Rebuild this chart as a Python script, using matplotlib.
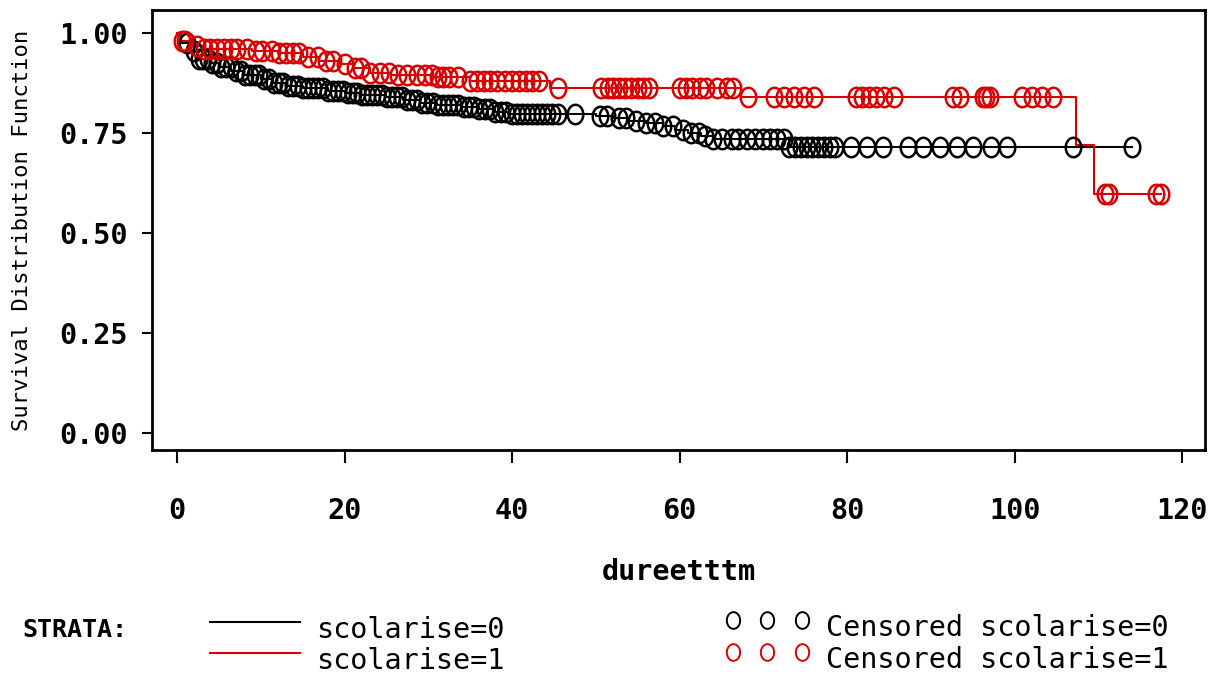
import numpy as np
import matplotlib
matplotlib.use("Agg")
import matplotlib.pyplot as plt
from matplotlib.lines import Line2D
from matplotlib.path import Path

# ---------------- data ----------------
blk_times = [0, 0.5, 1.5, 2.5, 4.0, 5.0, 6.5, 8.0, 10.0, 11.5, 13.0, 15.0, 18.0, 20.0,
             22.0, 25.0, 27.0, 29.0, 31.0, 34.0, 36.0, 38.0, 39.5, 50.0, 52.0, 54.0,
             56.0, 58.0, 59.5, 61.0, 62.5, 64.0, 73.0]
blk_surv = [1.0, 0.975, 0.955, 0.935, 0.925, 0.915, 0.905, 0.895, 0.885, 0.875, 0.868,
            0.862, 0.856, 0.85, 0.845, 0.84, 0.833, 0.826, 0.82, 0.815, 0.81, 0.803,
            0.797, 0.792, 0.787, 0.781, 0.775, 0.767, 0.758, 0.75, 0.742, 0.735, 0.715]
blk_end = 114.0
blk_cens = [1.2, 2.0, 2.6, 3.1, 3.7, 4.2, 4.8, 5.3, 5.9, 6.4, 7.0, 7.6, 8.1, 8.7, 9.3,
            9.8, 10.4, 11.0, 11.6, 12.2, 12.7, 13.3, 13.9, 14.5, 15.1, 15.6, 16.2, 16.8,
            17.4, 18.0, 18.6, 19.2, 19.8, 20.4, 21.0, 21.5, 22.1, 22.7, 23.3, 23.9, 24.5,
            25.1, 25.7, 26.3, 26.9, 27.5, 28.1, 28.7, 29.3, 29.9, 30.5, 31.1, 31.7, 32.3,
            33.0, 33.6, 34.2, 34.8, 35.5, 36.1, 36.8, 37.4, 38.0, 38.7, 39.3, 40.0, 40.6,
            41.2, 41.8, 42.4, 43.0, 43.6, 44.2, 44.8, 45.5, 47.5, 50.5, 51.3, 52.8, 53.6,
            54.8, 56.0, 57.0, 58.0, 59.2, 60.4, 61.3, 62.3, 63.0, 64.0, 65.0, 66.2, 67.0,
            68.0, 69.0, 70.0, 70.8, 71.6, 72.4, 73.0, 73.8, 74.5, 75.2, 75.8, 76.5, 77.2,
            77.9, 78.5, 80.4, 82.4, 84.3, 87.2, 89.1, 91.1, 93.1, 95.0, 97.1, 99.1, 106.9,
            114.0]

red_times = [0, 0.5, 1.8, 3.0, 9.0, 12.0, 15.0, 17.0, 19.5, 21.0, 23.0, 25.5, 30.5,
             35.0, 44.5, 67.3, 107.3, 109.4]
red_surv = [1.0, 0.98, 0.968, 0.96, 0.955, 0.95, 0.94, 0.93, 0.922, 0.912, 0.9, 0.895,
            0.89, 0.88, 0.8625, 0.84, 0.72, 0.598]
red_end = 117.4
red_cens = [0.6, 1.0, 2.4, 3.2, 4.0, 4.8, 5.6, 6.4, 7.2, 8.4, 9.4, 10.2, 11.4, 12.2,
            13.0, 13.8, 14.6, 15.6, 16.8, 17.8, 18.6, 20.0, 21.2, 22.0, 23.0, 24.2, 25.3,
            26.4, 27.5, 28.6, 29.6, 30.4, 31.2, 31.8, 32.5, 33.6, 35.0, 35.8, 36.6, 37.4,
            38.2, 39.2, 40.0, 40.8, 41.6, 42.4, 43.2, 45.5, 50.6, 51.4, 52.0, 52.8, 53.5,
            54.2, 55.0, 55.6, 56.3, 60.0, 60.8, 61.5, 62.4, 63.2, 64.5, 65.6, 66.4, 68.2,
            71.2, 72.4, 73.6, 74.8, 76.0, 81.0, 81.8, 82.6, 83.4, 84.4, 85.6, 92.6, 93.4,
            96.2, 96.6, 97.0, 100.8, 102.0, 103.2, 104.6, 110.8, 111.2, 116.9, 117.4]

x_ticks = [0, 20, 40, 60, 80, 100, 120]
y_ticks = [0.00, 0.25, 0.50, 0.75, 1.00]
y_tick_labels = ["0.00", "0.25", "0.50", "0.75", "1.00"]
x_label = "dureetttm"
y_label = "Survival Distribution Function"
strata_labels = ["scolarise=0", "scolarise=1"]
censor_labels = ["Censored scolarise=0", "Censored scolarise=1"]

# ---------------- styling ----------------
BLACK = "#000000"
RED = "#d80000"
MONO = ["DejaVu Sans Mono"]
FS = 20.5

theta = np.linspace(0, 2 * np.pi, 41)
ellipse = Path(np.column_stack([0.8 * np.cos(theta), np.sin(theta)]), closed=True)

fig = plt.figure(figsize=(12.2, 6.75), dpi=100)
ax = fig.add_axes([152 / 1220, 1 - 450 / 675, (1205 - 152) / 1220, (450 - 10) / 675])


def step_value(times, surv, c):
    idx = np.searchsorted(np.asarray(times), np.asarray(c), side="right") - 1
    return np.asarray(surv)[idx]


for times, surv, end, cens, col in [
    (blk_times, blk_surv, blk_end, blk_cens, BLACK),
    (red_times, red_surv, red_end, red_cens, RED),
]:
    xs = list(times) + [end]
    ys = list(surv) + [surv[-1]]
    ax.step(xs, ys, where="post", color=col, lw=1.5, zorder=2)
    ax.plot(cens, step_value(times, surv, cens), linestyle="none", marker=ellipse,
            markersize=14, markerfacecolor="none", markeredgecolor=col,
            markeredgewidth=1.8, zorder=3)

ax.set_xlim(-2.98, 122.7)
ax.set_ylim(-0.0425, 1.0575)
ax.set_xticks(x_ticks)
ax.set_xticklabels([str(v) for v in x_ticks], fontfamily=MONO, fontsize=FS,
                   fontweight="bold")
ax.set_yticks(y_ticks)
ax.set_yticklabels(y_tick_labels, fontfamily=MONO, fontsize=FS, fontweight="bold")
ax.tick_params(axis="x", length=9.5, width=1.5, pad=24, direction="out")
ax.tick_params(axis="y", length=7.2, width=1.5, pad=10, direction="out")
for sp in ax.spines.values():
    sp.set_linewidth(2)

ax.set_xlabel(x_label, fontfamily=MONO, fontsize=FS, fontweight="bold", labelpad=24)
fig.text(22 / 1220, 1 - 230 / 675, y_label, rotation=90, ha="center", va="center",
         fontfamily=MONO, fontsize=16)

# ---------------- legend ----------------
fig.text(22 / 1220, 1 - 630 / 675, "STRATA:", ha="left", va="center",
         fontfamily=MONO, fontsize=18, fontweight="bold")
for i, (lab, col) in enumerate(zip(strata_labels, [BLACK, RED])):
    yl = 1 - (622 + 31 * i) / 675
    yt = 1 - (630 + 31 * i) / 675
    fig.add_artist(Line2D([210 / 1220, 300 / 1220], [yl, yl], color=col, lw=1.5,
                          transform=fig.transFigure))
    fig.text(316 / 1220, yt, lab, ha="left", va="center", fontfamily=MONO,
             fontsize=FS)
for i, (lab, col) in enumerate(zip(censor_labels, [BLACK, RED])):
    ym = 1 - (620 + 32 * i) / 675
    yt = 1 - (628 + 32 * i) / 675
    fig.add_artist(Line2D([733 / 1220, 767 / 1220, 802 / 1220], [ym] * 3,
                          linestyle="none", marker=ellipse, markersize=12,
                          markerfacecolor="none", markeredgecolor=col,
                          markeredgewidth=1.4, transform=fig.transFigure))
    fig.text(826 / 1220, yt, lab, ha="left", va="center", fontfamily=MONO,
             fontsize=FS)

fig.savefig("out.png", dpi=100)
